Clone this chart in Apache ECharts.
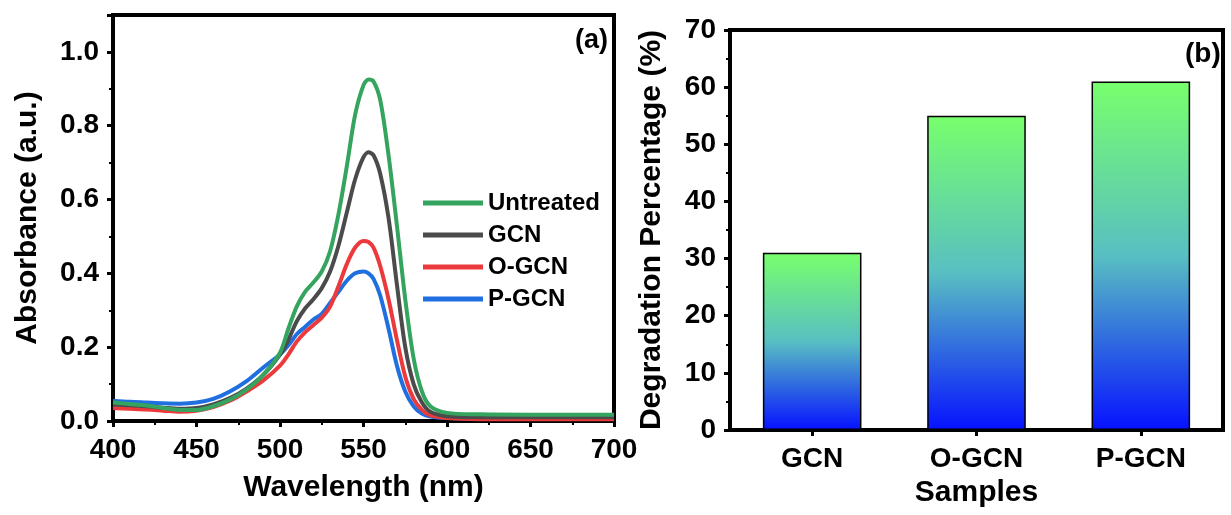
<!DOCTYPE html>
<html>
<head>
<meta charset="utf-8">
<script src="https://cdn.jsdelivr.net/npm/echarts@6/dist/echarts.min.js"></script>
<style>
  html, body { margin: 0; padding: 0; background: #fff; }
  #chart { width: 1231px; height: 515px; }
</style>
</head>
<body>
<div id="chart"></div>
<script>
// panel (a) - absorbance spectra
const wavelengths = [400, 410, 420, 430, 440, 450, 460, 470, 480, 490, 500, 505, 510, 515, 520, 525, 530, 535, 540, 545, 550, 553, 556, 560, 565, 570, 575, 580, 585, 590, 600, 620, 650, 700]
const untreated = [0.050, 0.046, 0.042, 0.035, 0.030, 0.030, 0.040, 0.058, 0.085, 0.125, 0.185, 0.25, 0.31, 0.35, 0.375, 0.405, 0.46, 0.56, 0.69, 0.83, 0.91, 0.925, 0.92, 0.87, 0.72, 0.53, 0.33, 0.17, 0.08, 0.04, 0.022, 0.018, 0.017, 0.017]
const gcn = [0.045, 0.043, 0.040, 0.036, 0.033, 0.035, 0.045, 0.062, 0.088, 0.125, 0.18, 0.22, 0.27, 0.305, 0.33, 0.36, 0.405, 0.475, 0.565, 0.655, 0.715, 0.728, 0.72, 0.67, 0.55, 0.37, 0.20, 0.10, 0.05, 0.025, 0.013, 0.01, 0.01, 0.01]
const oGcn = [0.035, 0.033, 0.031, 0.028, 0.025, 0.028, 0.038, 0.055, 0.08, 0.11, 0.15, 0.18, 0.215, 0.24, 0.26, 0.28, 0.31, 0.365, 0.425, 0.47, 0.488, 0.485, 0.47, 0.42, 0.33, 0.22, 0.12, 0.06, 0.03, 0.015, 0.008, 0.005, 0.005, 0.005]
const pGcn = [0.055, 0.052, 0.050, 0.048, 0.047, 0.050, 0.060, 0.080, 0.108, 0.145, 0.18, 0.205, 0.235, 0.255, 0.275, 0.29, 0.32, 0.35, 0.38, 0.40, 0.405, 0.40, 0.385, 0.34, 0.25, 0.15, 0.08, 0.04, 0.02, 0.012, 0.008, 0.006, 0.006, 0.006]

// panel (b) - degradation
const samples = ['GCN', 'O-GCN', 'P-GCN']
const degradation = [31, 55, 61]

const font = 'Arial, "Liberation Sans", sans-serif'

function pairs(ys) {
  return wavelengths.map((x, i) => [x, ys[i]])
}

function axisCommon(extra) {
  return Object.assign({
    nameLocation: 'middle',
    nameTextStyle: { fontFamily: font, fontWeight: 'bold', fontSize: 30, color: '#000', lineHeight: 30 },
    axisLine: { show: true, onZero: false, lineStyle: { color: '#000', width: 4 } },
    axisTick: { show: true, inside: false, length: 6, lineStyle: { color: '#000', width: 3 } },
    splitLine: { show: false }
  }, extra)
}

const minorTick = { show: true, splitNumber: 2, length: 4, lineStyle: { color: '#000', width: 2 } }
const tickFont = { fontFamily: font, fontWeight: 'bold', fontSize: 28, color: '#000' }

const barGradient = new echarts.graphic.LinearGradient(0, 0, 0, 1, [
  { offset: 0, color: '#78ff6c' },
  { offset: 0.5, color: '#58bfc2' },
  { offset: 1, color: '#0612ff' }
])

const lineSeries = [
  { name: 'P-GCN', data: pGcn, color: '#1f6fe0' },
  { name: 'O-GCN', data: oGcn, color: '#ec3a3c' },
  { name: 'GCN', data: gcn, color: '#4b4b4b' },
  { name: 'Untreated', data: untreated, color: '#34a45f' }
].map(s => ({
  name: s.name,
  type: 'line',
  xAxisIndex: 0,
  yAxisIndex: 0,
  smooth: 0.3,
  showSymbol: false,
  symbol: 'none',
  color: s.color,
  lineStyle: { width: 4, color: s.color },
  data: pairs(s.data)
}))

const chart = echarts.init(document.getElementById('chart'), null, { renderer: 'canvas' })

chart.setOption({
  animation: false,
  backgroundColor: '#fff',
  grid: [
    { left: 113, right: 617, top: 15, bottom: 94, show: true, borderColor: '#000', borderWidth: 4, backgroundColor: 'transparent' },
    { left: 730, right: 8, top: 30, bottom: 85, show: true, borderColor: '#000', borderWidth: 4, backgroundColor: 'transparent' }
  ],
  legend: {
    data: ['Untreated', 'GCN', 'O-GCN', 'P-GCN'],
    orient: 'vertical',
    left: 418,
    top: 186,
    itemWidth: 60,
    itemHeight: 5,
    itemGap: 8,
    icon: 'rect',
    textStyle: { fontFamily: font, fontWeight: 'bold', fontSize: 24, color: '#000', lineHeight: 24 }
  },
  xAxis: [
    axisCommon({
      gridIndex: 0,
      type: 'value',
      min: 400,
      max: 700,
      interval: 50,
      name: 'Wavelength (nm)',
      nameGap: 52,
      minorTick: minorTick,
      axisLabel: Object.assign({ margin: 15 }, tickFont)
    }),
    axisCommon({
      gridIndex: 1,
      type: 'category',
      data: samples,
      name: 'Samples',
      nameGap: 48,
      axisTick: { show: true, alignWithLabel: true, length: 6, lineStyle: { color: '#000', width: 3 } },
      axisLabel: Object.assign({ margin: 15 }, tickFont)
    })
  ],
  yAxis: [
    axisCommon({
      gridIndex: 0,
      type: 'value',
      min: 0,
      max: 1.1,
      interval: 0.2,
      name: 'Absorbance (a.u.)',
      nameGap: 70,
      minorTick: minorTick,
      axisLabel: Object.assign({ margin: 14, showMaxLabel: false, formatter: v => v.toFixed(1) }, tickFont)
    }),
    axisCommon({
      gridIndex: 1,
      type: 'value',
      min: 0,
      max: 70,
      interval: 10,
      name: 'Degradation Percentage (%)',
      nameGap: 63,
      minorTick: minorTick,
      axisLabel: Object.assign({ margin: 14 }, tickFont)
    })
  ],
  graphic: [
    { type: 'text', left: 575, top: 27, style: { text: '(a)', fontFamily: font, fontWeight: 'bold', fontSize: 27, fill: '#000' } },
    { type: 'text', left: 1185, top: 40, style: { text: '(b)', fontFamily: font, fontWeight: 'bold', fontSize: 28, fill: '#000' } }
  ],
  series: lineSeries.concat([{
    name: 'Degradation',
    type: 'bar',
    xAxisIndex: 1,
    yAxisIndex: 1,
    barWidth: '60%',
    itemStyle: { color: barGradient, borderColor: '#000', borderWidth: 1.5 },
    data: degradation
  }])
})
</script>
</body>
</html>
